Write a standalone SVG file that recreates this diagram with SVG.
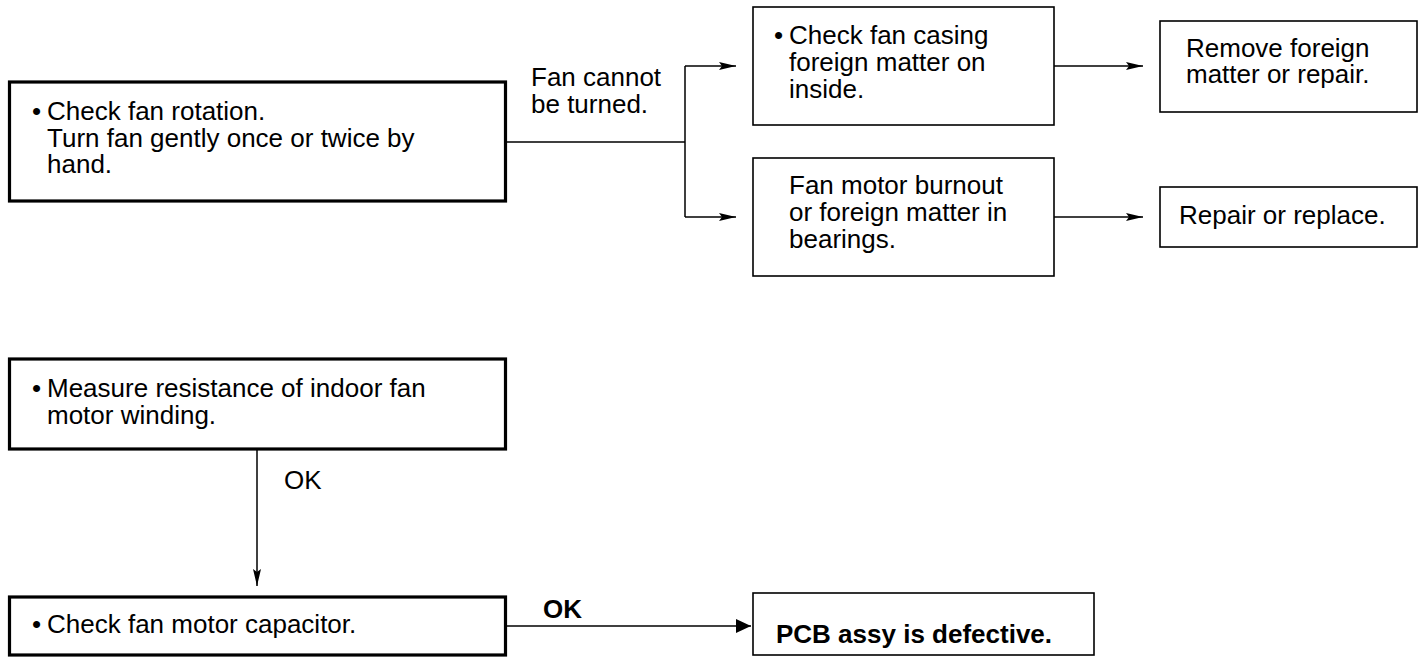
<svg xmlns="http://www.w3.org/2000/svg" width="1425" height="657" viewBox="0 0 1425 657">
<style>
text{font-family:"Liberation Sans",Arial,sans-serif;font-size:26px;fill:#000}
.b{font-weight:bold}
.thick{fill:#fff;stroke:#000;stroke-width:3.2}
.thin{fill:#fff;stroke:#000;stroke-width:1.6}
.ln{fill:none;stroke:#000;stroke-width:1.5}
</style>
<defs>
<marker id="a" markerWidth="18" markerHeight="10" refX="17" refY="5" orient="auto" markerUnits="userSpaceOnUse">
<path d="M0,1 L17,5 L0,9 L3,5 z" fill="#000"/>
</marker>
<marker id="a2" markerWidth="16" markerHeight="16" refX="15" refY="8" orient="auto" markerUnits="userSpaceOnUse">
<path d="M0,1 L15,8 L0,15 z" fill="#000"/>
</marker>
</defs>
<rect width="1425" height="657" fill="#fff"/>
<g id="connectors">
<path class="ln" d="M507,142 H685 M685,66 V217"/>
<path class="ln" d="M685,66 H736" marker-end="url(#a)"/>
<path class="ln" d="M685,217 H736" marker-end="url(#a)"/>
<path class="ln" d="M1054,66 H1143" marker-end="url(#a)"/>
<path class="ln" d="M1054,217 H1143" marker-end="url(#a)"/>
<path class="ln" d="M257,450 V586" marker-end="url(#a)"/>
<path class="ln" d="M507,626 H751" marker-end="url(#a2)"/>
<text x="531" y="86">Fan cannot</text>
<text x="531" y="113">be turned.</text>
<text x="284" y="489">OK</text>
<text class="b" x="543" y="618">OK</text>
</g>
<g id="n1">
<rect class="thick" x="9.5" y="82" width="496" height="119"/>
<text x="32" y="120">•</text>
<text x="47" y="120">Check fan rotation.</text>
<text x="47" y="147">Turn fan gently once or twice by</text>
<text x="47" y="173">hand.</text>
</g>
<g id="n2">
<rect class="thin" x="753" y="7" width="301" height="118"/>
<text x="774" y="44">•</text>
<text x="789" y="44">Check fan casing</text>
<text x="789" y="71">foreign matter on</text>
<text x="789" y="98">inside.</text>
</g>
<g id="n3">
<rect class="thin" x="753" y="158" width="301" height="118"/>
<text x="789" y="194">Fan motor burnout</text>
<text x="789" y="221">or foreign matter in</text>
<text x="789" y="248">bearings.</text>
</g>
<g id="n4">
<rect class="thin" x="1160" y="21" width="257" height="91"/>
<text x="1186" y="57">Remove foreign</text>
<text x="1186" y="83">matter or repair.</text>
</g>
<g id="n5">
<rect class="thin" x="1160" y="187" width="257" height="60"/>
<text x="1179" y="224">Repair or replace.</text>
</g>
<g id="n6">
<rect class="thick" x="9.5" y="359" width="496" height="90"/>
<text x="32" y="397">•</text>
<text x="47" y="397">Measure resistance of indoor fan</text>
<text x="47" y="424">motor winding.</text>
</g>
<g id="n7">
<rect class="thick" x="9.5" y="597" width="496" height="58"/>
<text x="32" y="633">•</text>
<text x="47" y="633">Check fan motor capacitor.</text>
</g>
<g id="n8">
<rect class="thin" x="753" y="593" width="341" height="62"/>
<text class="b" x="776" y="643">PCB assy is defective.</text>
</g>
</svg>
